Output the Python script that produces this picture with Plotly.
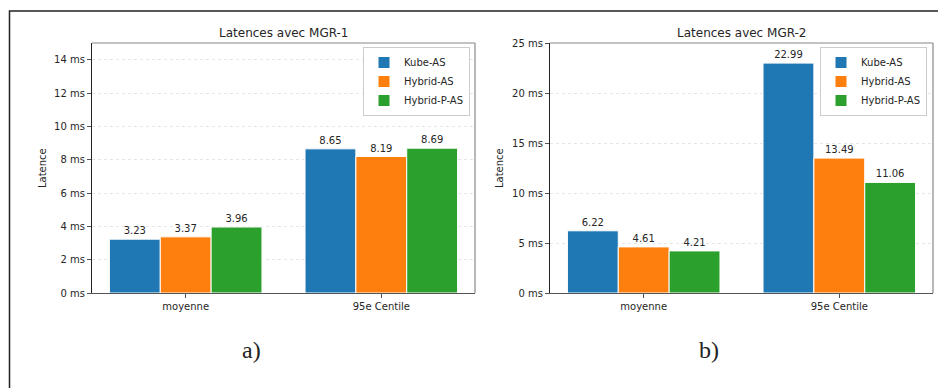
import plotly.graph_objects as go

# Latency data (ms) per autoscaler, for the two MGR configurations
categories = ["moyenne", "95e Centile"]
series_names = ["Kube-AS", "Hybrid-AS", "Hybrid-P-AS"]
colors = ["#1f77b4", "#ff7f0e", "#2ca02c"]

mgr1_kube = [3.23, 8.65]
mgr1_hybrid = [3.37, 8.19]
mgr1_hybrid_p = [3.96, 8.69]

mgr2_kube = [6.22, 22.99]
mgr2_hybrid = [4.61, 13.49]
mgr2_hybrid_p = [4.21, 11.06]

mgr1_ticks = [0, 2, 4, 6, 8, 10, 12, 14]
mgr2_ticks = [0, 5, 10, 15, 20, 25]

W, H = 938, 388


def px_x(v):
    return v / W


def px_y(v):
    return (H - v) / H


fig = go.Figure()

font_main = "DejaVu Sans"
text_col = "#262626"

panels = [
    ("x", "y", "legend", [mgr1_kube, mgr1_hybrid, mgr1_hybrid_p]),
    ("x2", "y2", "legend2", [mgr2_kube, mgr2_hybrid, mgr2_hybrid_p]),
]
for xa, ya, leg, data in panels:
    for name, col, vals in zip(series_names, colors, data):
        fig.add_trace(go.Bar(
            x=categories, y=vals, name=name, xaxis=xa, yaxis=ya, legend=leg,
            marker=dict(color=col, line=dict(color="white", width=1)),
            texttemplate="%{y:.2f}", textposition="outside",
            textfont=dict(family=font_main, size=10, color=text_col),
            cliponaxis=False,
        ))

left_dom = [px_x(92), px_x(475)]
right_dom = [px_x(550), px_x(933)]
y_dom = [px_y(293), px_y(43)]

common_x = dict(
    type="category", range=[-0.479, 1.479], showgrid=False, automargin=False,
    showline=True, linecolor="#555", linewidth=1.2,
    ticks="outside", ticklen=4, tickcolor="#555",
    tickfont=dict(family=font_main, size=10, color=text_col),
)
common_y = dict(
    showgrid=True, gridcolor="#e6e6e6", griddash="dot", gridwidth=1,
    showline=True, linecolor="#222", linewidth=1.2, zeroline=False,
    automargin=False, tickmode="array",
    ticks="outside", ticklen=4, tickcolor="#555",
    tickfont=dict(family=font_main, size=10, color=text_col),
)

legend_style = dict(
    xanchor="right", yanchor="top",
    bgcolor="white", bordercolor="#cccccc", borderwidth=1,
    font=dict(family=font_main, size=10, color=text_col),
    tracegroupgap=0,
)

fig.update_layout(
    width=W, height=H,
    margin=dict(l=0, r=0, t=0, b=0, autoexpand=False),
    paper_bgcolor="white", plot_bgcolor="white",
    barmode="group", bargap=0.22, bargroupgap=0,
    showlegend=True,
    xaxis=dict(domain=left_dom, anchor="y", **common_x),
    yaxis=dict(domain=y_dom, anchor="x", range=[0, 15],
               tickvals=mgr1_ticks,
               ticktext=[f"{t} ms" for t in mgr1_ticks], **common_y),
    xaxis2=dict(domain=right_dom, anchor="y2", **common_x),
    yaxis2=dict(domain=y_dom, anchor="x2", range=[0, 25],
                tickvals=mgr2_ticks,
                ticktext=[f"{t} ms" for t in mgr2_ticks], **common_y),
    legend=dict(x=px_x(470), y=px_y(47), **legend_style),
    legend2=dict(x=px_x(927), y=px_y(47), **legend_style),
)

# Top/right spines in a lighter grey
for xr, yr in (("x domain", "y domain"), ("x2 domain", "y2 domain")):
    fig.add_shape(type="line", xref=xr, yref=yr, x0=0, x1=1, y0=1, y1=1,
                  line=dict(color="#888", width=1.2))
    fig.add_shape(type="line", xref=xr, yref=yr, x0=1, x1=1, y0=0, y1=1,
                  line=dict(color="#888", width=1.2))

# Outer figure frame (left and top edges)
fig.add_shape(type="path", xref="paper", yref="paper",
              path=f"M {px_x(9.5)} 0 L {px_x(9.5)} {px_y(11)} L 1 {px_y(11)}",
              line=dict(color="#222", width=1.5))

annotations = [
    dict(text="Latences avec MGR-1", x=px_x(283.5), y=px_y(33),
         font=dict(family=font_main, size=12, color=text_col)),
    dict(text="Latences avec MGR-2", x=px_x(741.5), y=px_y(33),
         font=dict(family=font_main, size=12, color=text_col)),
    dict(text="Latence", x=px_x(42), y=px_y(168), textangle=-90,
         font=dict(family=font_main, size=10, color=text_col)),
    dict(text="Latence", x=px_x(499), y=px_y(168), textangle=-90,
         font=dict(family=font_main, size=10, color=text_col)),
    dict(text="a)", x=px_x(251), y=px_y(350),
         font=dict(family="Liberation Serif", size=24, color="#222")),
    dict(text="b)", x=px_x(709), y=px_y(350),
         font=dict(family="Liberation Serif", size=24, color="#222")),
]
for a in annotations:
    fig.add_annotation(xref="paper", yref="paper", showarrow=False,
                       xanchor="center", yanchor="middle", **a)

fig.write_html("out.html")
